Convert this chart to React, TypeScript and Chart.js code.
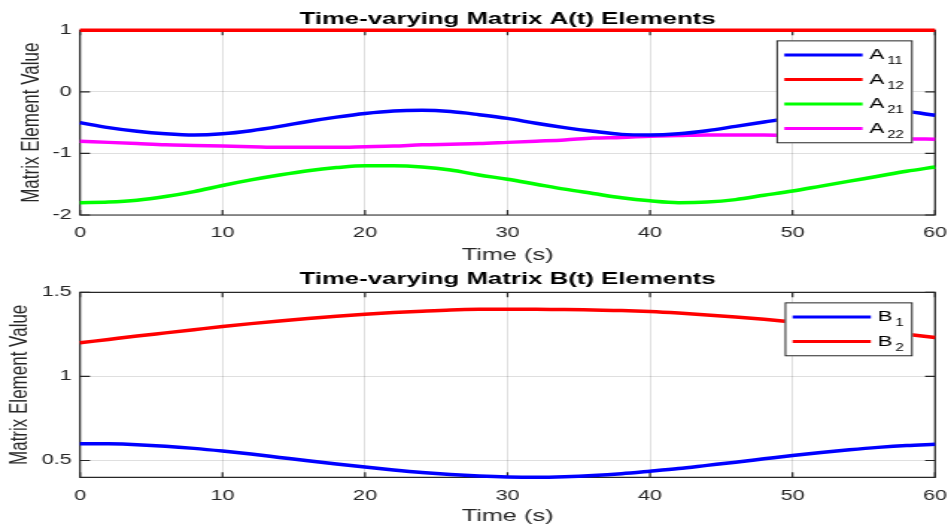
import React, { useEffect, useRef } from 'react';
import { Chart, registerables } from 'chart.js';

Chart.register(...registerables);

// ---------- data ----------
const TIME = [0, 2, 4, 6, 8, 10, 12, 14, 16, 18, 20, 22, 24, 26, 28, 30, 32, 34, 36, 38, 40, 42, 44, 46, 48, 50, 52, 54, 56, 58, 60];

const A11 = [-0.50, -0.58, -0.64, -0.68, -0.70, -0.68, -0.63, -0.56, -0.48, -0.41, -0.35, -0.31, -0.30, -0.32, -0.37, -0.43, -0.51, -0.58, -0.64, -0.69, -0.70, -0.68, -0.63, -0.56, -0.49, -0.42, -0.36, -0.32, -0.30, -0.32, -0.38];
const A12 = [1, 1, 1, 1, 1, 1, 1, 1, 1, 1, 1, 1, 1, 1, 1, 1, 1, 1, 1, 1, 1, 1, 1, 1, 1, 1, 1, 1, 1, 1, 1];
const A21 = [-1.80, -1.79, -1.76, -1.70, -1.62, -1.52, -1.43, -1.35, -1.28, -1.23, -1.20, -1.20, -1.22, -1.27, -1.35, -1.42, -1.50, -1.58, -1.65, -1.72, -1.77, -1.80, -1.79, -1.75, -1.68, -1.61, -1.53, -1.45, -1.37, -1.29, -1.22];
const A22 = [-0.80, -0.82, -0.84, -0.86, -0.87, -0.88, -0.89, -0.90, -0.90, -0.90, -0.89, -0.88, -0.86, -0.85, -0.84, -0.82, -0.80, -0.78, -0.75, -0.74, -0.72, -0.71, -0.70, -0.70, -0.70, -0.71, -0.72, -0.73, -0.74, -0.76, -0.77];

const B1 = [0.600, 0.599, 0.594, 0.585, 0.572, 0.556, 0.538, 0.518, 0.498, 0.479, 0.461, 0.444, 0.429, 0.417, 0.408, 0.402, 0.400, 0.403, 0.410, 0.421, 0.436, 0.452, 0.471, 0.490, 0.510, 0.530, 0.548, 0.564, 0.578, 0.589, 0.596];
const B2 = [1.200, 1.220, 1.240, 1.259, 1.278, 1.297, 1.314, 1.330, 1.345, 1.358, 1.370, 1.380, 1.388, 1.395, 1.399, 1.400, 1.400, 1.398, 1.395, 1.392, 1.386, 1.377, 1.366, 1.354, 1.340, 1.324, 1.307, 1.289, 1.270, 1.251, 1.232];

const A_LETTER = 'A';
const A_SUBS = ['11', '12', '21', '22'];
const A_COLORS = ['#0000ff', '#ff0000', '#00ff00', '#ff00ff'];
const B_LETTER = 'B';
const B_SUBS = ['1', '2'];
const B_COLORS = ['#0000ff', '#ff0000'];

const X_TICKS = [0, 10, 20, 30, 40, 50, 60];
const A_Y_TICKS = [-2, -1, 0, 1];
const B_Y_TICKS = [0.5, 1, 1.5];

const TITLE_A = 'Time-varying Matrix A(t) Elements';
const TITLE_B = 'Time-varying Matrix B(t) Elements';
const X_TITLE = 'Time (s)';
const Y_TITLE = 'Matrix Element Value';

// ---------- styling ----------
const FONT = "'Liberation Sans', Arial, Helvetica, sans-serif";
const AXIS_COLOR = '#262626';
const GRID_COLOR = 'rgba(38,38,38,0.15)';
const W = 636;
const H = 264;
const SX = 948 / W;

type Cfg = {
  series: number[][];
  subs: string[];
  letter: string;
  colors: string[];
  title: string;
  titlePad: { top: number; bottom: number };
  yMin: number;
  yMax: number;
  yTicks: number[];
  yTitlePad: number;
  xTitlePad: number;
  xTickPad: number;
  xAxisH: number;
};

const framePlugin = {
  id: 'frame',
  beforeDatasetsDraw(chart: any) {
    const { ctx, chartArea: a, scales } = chart;
    const x = scales.x;
    const y = scales.y;
    ctx.save();
    ctx.strokeStyle = AXIS_COLOR;
    ctx.lineWidth = 1.2;
    ctx.beginPath();
    ctx.rect(a.left, a.top, a.right - a.left, a.bottom - a.top);
    ctx.stroke();
    ctx.beginPath();
    for (const t of x.ticks) {
      const px = x.getPixelForValue(t.value);
      ctx.moveTo(px, a.bottom);
      ctx.lineTo(px, a.bottom - 5);
      ctx.moveTo(px, a.top);
      ctx.lineTo(px, a.top + 5);
    }
    for (const t of y.ticks) {
      const py = y.getPixelForValue(t.value);
      ctx.moveTo(a.left, py);
      ctx.lineTo(a.left + 6.7, py);
      ctx.moveTo(a.right, py);
      ctx.lineTo(a.right - 6.7, py);
    }
    ctx.stroke();
    ctx.restore();
  },
};

const legendPlugin = {
  id: 'subLegend',
  afterDraw(chart: any, _args: any, opts: any) {
    const { ctx, chartArea: a } = chart;
    const subs: string[] = opts.subs;
    const colors: string[] = opts.colors;
    const letter: string = opts.letter;
    const rowH = 24.5;
    const padV = 14.7;
    const lineX0 = 5.3;
    const lineLen = 52.5;
    const textGap = 4.5;
    ctx.save();
    ctx.font = `15px ${FONT}`;
    const lw = ctx.measureText(letter).width;
    ctx.font = `10px ${FONT}`;
    let sw = 0;
    for (const s of subs) sw = Math.max(sw, ctx.measureText(s).width);
    const textW = lw + 2 + sw;
    const boxW = lineX0 + lineLen + textGap + textW + 6;
    const boxH = padV * 2 + (subs.length - 1) * rowH;
    const bx = a.right - 15 - boxW;
    const by = a.top + 10;
    ctx.fillStyle = '#ffffff';
    ctx.fillRect(bx, by, boxW, boxH);
    ctx.strokeStyle = AXIS_COLOR;
    ctx.lineWidth = 1;
    ctx.strokeRect(bx + 0.5, by + 0.5, boxW - 1, boxH - 1);
    subs.forEach((s, i) => {
      const cy = by + padV + i * rowH;
      ctx.strokeStyle = colors[i];
      ctx.lineWidth = 3;
      ctx.beginPath();
      ctx.moveTo(bx + lineX0, cy);
      ctx.lineTo(bx + lineX0 + lineLen, cy);
      ctx.stroke();
      const tx = bx + lineX0 + lineLen + textGap;
      ctx.fillStyle = '#000000';
      ctx.textBaseline = 'alphabetic';
      ctx.textAlign = 'left';
      ctx.font = `15px ${FONT}`;
      ctx.fillText(letter, tx, cy + 4.3);
      ctx.font = `10px ${FONT}`;
      ctx.fillText(s, tx + lw + 2, cy + 9);
    });
    ctx.restore();
  },
};

function makeConfig(c: Cfg): any {
  return {
    type: 'line',
    data: {
      datasets: c.series.map((vals, i) => ({
        label: c.letter + c.subs[i],
        data: TIME.map((t, k) => ({ x: t, y: vals[k] })),
        borderColor: c.colors[i],
        backgroundColor: c.colors[i],
        borderWidth: 3.5,
        pointRadius: 0,
        fill: false,
        cubicInterpolationMode: 'monotone',
        clip: 4,
      })),
    },
    options: {
      animation: false,
      responsive: false,
      devicePixelRatio: 1,
      layout: { autoPadding: false, padding: { top: 0, right: 8.7, bottom: 0, left: 0 } },
      plugins: {
        legend: { display: false },
        tooltip: { enabled: false },
        title: {
          display: true,
          text: c.title,
          color: '#000000',
          fullSize: false,
          font: { family: FONT, size: 17.3, weight: 'bold', lineHeight: 1.2 },
          padding: c.titlePad,
        },
        subLegend: { subs: c.subs, colors: c.colors, letter: c.letter },
      },
      scales: {
        x: {
          type: 'linear',
          min: 0,
          max: 60,
          afterBuildTicks: (s: any) => {
            s.ticks = X_TICKS.map((v) => ({ value: v }));
          },
          afterFit: (s: any) => {
            s.height = c.xAxisH;
            s.paddingLeft = 0;
            s.paddingRight = 0;
          },
          grid: { color: GRID_COLOR, lineWidth: 1, drawTicks: false },
          border: { display: false },
          ticks: {
            color: AXIS_COLOR,
            padding: c.xTickPad,
            font: { family: FONT, size: 14.5 },
            maxRotation: 0,
            callback: (v: any) => String(v),
          },
          title: {
            display: true,
            text: X_TITLE,
            color: AXIS_COLOR,
            font: { family: FONT, size: 17, lineHeight: 1 },
            padding: { top: 0, bottom: c.xTitlePad },
          },
        },
        y: {
          type: 'linear',
          min: c.yMin,
          max: c.yMax,
          afterBuildTicks: (s: any) => {
            s.ticks = c.yTicks.map((v) => ({ value: v }));
          },
          afterFit: (s: any) => {
            s.width = 80 / SX;
            s.paddingTop = 0;
            s.paddingBottom = 0;
          },
          grid: { color: GRID_COLOR, lineWidth: 1, drawTicks: false },
          border: { display: false },
          ticks: {
            color: AXIS_COLOR,
            padding: 5.6,
            font: { family: FONT, size: 14.5 },
            callback: (v: any) => String(v),
          },
          title: {
            display: true,
            text: Y_TITLE,
            color: AXIS_COLOR,
            font: { family: FONT, size: 17, lineHeight: 1.2 },
            padding: { top: c.yTitlePad, bottom: 0 },
          },
        },
      },
    },
    plugins: [framePlugin, legendPlugin],
  };
}

const CFG_A: Cfg = {
  series: [A11, A12, A21, A22],
  subs: A_SUBS,
  letter: A_LETTER,
  colors: A_COLORS,
  title: TITLE_A,
  titlePad: { top: 9.3, bottom: 0.3 },
  yMin: -2,
  yMax: 1,
  yTicks: A_Y_TICKS,
  yTitlePad: 11.1,
  xTitlePad: 0,
  xTickPad: 9,
  xAxisH: 49,
};

const CFG_B: Cfg = {
  series: [B1, B2],
  subs: B_SUBS,
  letter: B_LETTER,
  colors: B_COLORS,
  title: TITLE_B,
  titlePad: { top: 4.8, bottom: 2.8 },
  yMin: 0.4,
  yMax: 1.5,
  yTicks: B_Y_TICKS,
  yTitlePad: 2.7,
  xTitlePad: 3,
  xTickPad: 10,
  xAxisH: 50.7,
};

function Panel({ cfg, top }: { cfg: Cfg; top: number }) {
  const ref = useRef<HTMLCanvasElement | null>(null);
  useEffect(() => {
    if (!ref.current) return;
    const chart = new Chart(ref.current, makeConfig(cfg));
    return () => chart.destroy();
  }, [cfg]);
  return (
    <canvas
      ref={ref}
      width={W}
      height={H}
      style={{
        position: 'absolute',
        left: 0,
        top,
        width: W,
        height: H,
        transform: `scaleX(${SX})`,
        transformOrigin: '0 0',
      }}
    />
  );
}

export default function App() {
  return (
    <div
      style={{
        position: 'fixed',
        left: 0,
        top: 0,
        width: 948,
        height: 528,
        background: '#ffffff',
        overflow: 'hidden',
      }}
    >
      <Panel cfg={CFG_A} top={0} />
      <Panel cfg={CFG_B} top={264} />
    </div>
  );
}
